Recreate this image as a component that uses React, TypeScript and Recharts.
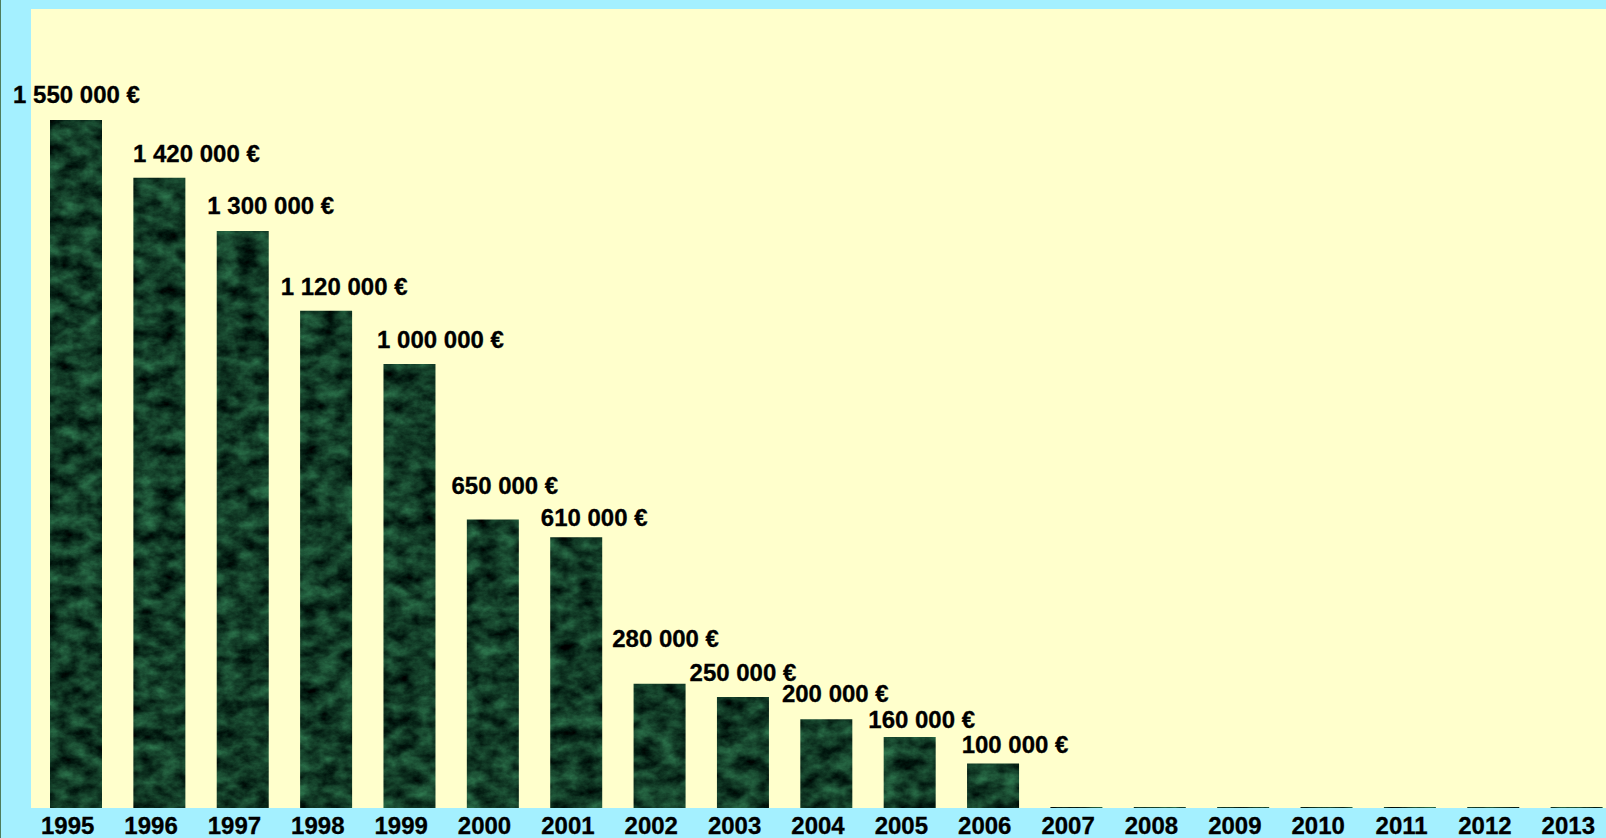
import React from "react";
import { BarChart, Bar, XAxis, YAxis, LabelList } from "recharts";

// years shown under the bars
const years = [
  "1995", "1996", "1997", "1998", "1999", "2000", "2001", "2002", "2003", "2004",
  "2005", "2006", "2007", "2008", "2009", "2010", "2011", "2012", "2013"
];

// amount per year in euros (nothing from 2007 on)
const amounts = [
  1550000, 1420000, 1300000, 1120000, 1000000, 650000, 610000, 280000, 250000, 200000,
  160000, 100000, 0, 0, 0, 0, 0, 0, 0
];

// small nudges so the value labels sit like in the original layout
const labelDx = [0.5, 37, 28, 18, 31, 12, 18, 6, 0, 9, 12, 22];
const labelRise = [25.6, 24.6, 25.6, 24.6, 24.6, 33.8, 19.5, 45, 24.6, 25.6, 17.4, 19.5];

const chartData = years.map((year, i) => ({ year, amount: amounts[i] }));

const FONT = "'Liberation Sans', Arial, sans-serif";

const formatEuro = (v: number) =>
  String(v).replace(/\B(?=(\d{3})+(?!\d))/g, " ") + " €";

const ValueLabel = (props: any) => {
  const { x, y, width, value, index } = props;
  if (!value) return null;
  const cx = Number(x) + Number(width) / 2 + (labelDx[index] || 0);
  const cy = Number(y) - (labelRise[index] || 24);
  return (
    <text
      x={cx}
      y={cy + 8.6}
      textAnchor="middle"
      fontFamily={FONT}
      fontWeight="bold"
      fontSize={24}
      fill="#000"
      stroke="#000"
      strokeWidth={0.3}
    >
      {formatEuro(value)}
    </text>
  );
};

const YearTick = (props: any) => {
  const { x, y, payload } = props;
  return (
    <text
      x={x - 8}
      y={y + 25.6}
      textAnchor="middle"
      fontFamily={FONT}
      fontWeight="bold"
      fontSize={24}
      fill="#000"
      stroke="#000"
      strokeWidth={0.3}
    >
      {payload.value}
    </text>
  );
};

export default function App() {
  return (
    <div
      style={{
        position: "fixed",
        left: 0,
        top: 0,
        width: 1606,
        height: 838,
        background: "#a4f0ff",
        borderLeft: "1px solid #4e7d5c",
        boxSizing: "border-box",
        overflow: "hidden"
      }}
    >
      <div
        style={{
          position: "absolute",
          left: 30,
          top: 9,
          width: 1600,
          height: 799,
          background: "#ffffcc"
        }}
      />
      <div style={{ position: "absolute", left: -3, top: 0 }}>
        <BarChart
          width={1620}
          height={838}
          data={chartData}
          margin={{ top: 9, right: 0, bottom: 0, left: 36 }}
          barCategoryGap={0}
        >
          <defs>
            <filter
              id="marbleFx"
              x="0"
              y="0"
              width="1620"
              height="838"
              filterUnits="userSpaceOnUse"
              colorInterpolationFilters="sRGB"
            >
              <feTurbulence type="fractalNoise" baseFrequency="0.05 0.07" numOctaves={5} seed={11} result="noise" />
              <feColorMatrix
                in="noise"
                type="matrix"
                values="0.28 0 0 0 -0.07  0.6 0 0 0 -0.07  0.4 0 0 0 -0.05  0 0 0 0 1"
              />
            </filter>
            <pattern id="marble" patternUnits="userSpaceOnUse" width={1620} height={838}>
              <rect x={0} y={0} width={1620} height={838} fill="#1a4d2c" filter="url(#marbleFx)" />
            </pattern>
          </defs>
          <XAxis
            dataKey="year"
            axisLine={false}
            tickLine={false}
            tickSize={0}
            tickMargin={0}
            height={30}
            interval={0}
            tick={<YearTick />}
          />
          <YAxis hide domain={[0, 1800000]} />
          <Bar
            dataKey="amount"
            fill="url(#marble)"
            barSize={52}
            minPointSize={1}
            isAnimationActive={false}
          >
            <LabelList dataKey="amount" content={<ValueLabel />} />
          </Bar>
        </BarChart>
      </div>
    </div>
  );
}
